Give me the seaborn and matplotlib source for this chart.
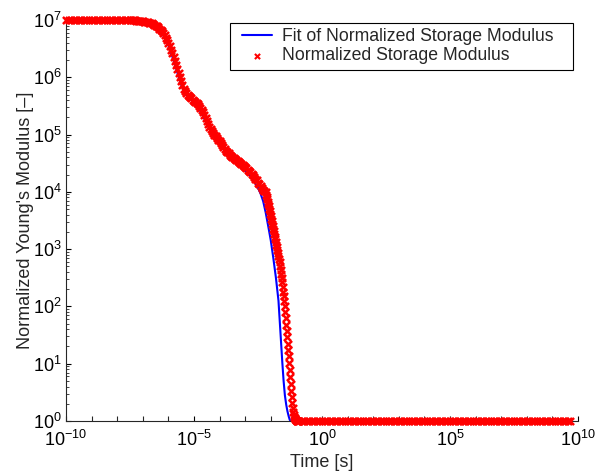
import numpy as np
import pandas as pd
import matplotlib
matplotlib.use("Agg")
import matplotlib.pyplot as plt
import seaborn as sns
from matplotlib.ticker import FixedLocator, FuncFormatter, LogLocator, NullFormatter
from matplotlib.lines import Line2D
from matplotlib.collections import PathCollection
from matplotlib.legend_handler import HandlerLine2D, HandlerPathCollection

# ---------------- data (log10 values) ----------------
# measured data: time exponents (log10 s)
data_log_time = [
    # upper plateau
    -10.0, -9.9, -9.8, -9.7, -9.6, -9.5, -9.4, -9.3, -9.2, -9.1, -9.0, -8.9, -8.8,
    -8.7, -8.6, -8.5, -8.4, -8.3, -8.2, -8.1, -8.0, -7.9, -7.8, -7.7, -7.6,
    # first relaxation zone
    -7.50, -7.45, -7.40, -7.35, -7.30, -7.25, -7.20, -7.15, -7.10, -7.05, -7.00,
    -6.95, -6.90, -6.85, -6.80, -6.75, -6.70, -6.65, -6.60, -6.55, -6.50, -6.45,
    -6.40, -6.35, -6.30, -6.25, -6.20, -6.15, -6.10, -6.05, -6.00, -5.95, -5.90,
    -5.85, -5.80, -5.75, -5.70, -5.65, -5.60, -5.55, -5.50, -5.45, -5.40, -5.35,
    -5.30, -5.25, -5.20, -5.15, -5.10, -5.05, -5.00, -4.95, -4.90, -4.85, -4.80,
    -4.75, -4.70, -4.65, -4.60, -4.55, -4.50, -4.45, -4.40, -4.35, -4.30, -4.25,
    -4.20, -4.15, -4.10, -4.05, -4.00, -3.95, -3.90, -3.85, -3.80, -3.75, -3.70,
    -3.65, -3.60, -3.55, -3.50, -3.45, -3.40, -3.35, -3.30, -3.25, -3.20, -3.15,
    -3.10, -3.05, -3.00, -2.95, -2.90, -2.85, -2.80, -2.75, -2.70, -2.65, -2.60,
    -2.55, -2.50, -2.45, -2.40, -2.35, -2.30, -2.25,
    # steep drop
    -2.20, -2.18, -2.16, -2.14, -2.12, -2.10, -2.08, -2.06, -2.04, -2.02, -2.00,
    -1.98, -1.96, -1.94, -1.92, -1.90, -1.88, -1.86, -1.84, -1.82, -1.80, -1.78,
    -1.76, -1.74, -1.72, -1.70, -1.68, -1.66, -1.64, -1.62, -1.60, -1.58, -1.56,
    -1.54, -1.52, -1.50, -1.48, -1.46, -1.44, -1.42, -1.40, -1.38, -1.36, -1.34,
    -1.32, -1.30, -1.28, -1.26, -1.24, -1.22, -1.20, -1.18, -1.16, -1.14, -1.12,
    -1.10, -1.08, -1.06, -1.04, -1.02, -1.00, -0.98, -0.96, -0.94, -0.92, -0.90,
    # lower plateau
    -0.8, -0.7, -0.6, -0.5, -0.4, -0.3, -0.2, -0.1, 0.0, 0.1, 0.2, 0.3, 0.4, 0.5,
    0.6, 0.7, 0.8, 0.9, 1.0, 1.1, 1.2, 1.3, 1.4, 1.5, 1.6, 1.7, 1.8, 1.9, 2.0, 2.1,
    2.2, 2.3, 2.4, 2.5, 2.6, 2.7, 2.8, 2.9, 3.0, 3.1, 3.2, 3.3, 3.4, 3.5, 3.6, 3.7,
    3.8, 3.9, 4.0, 4.1, 4.2, 4.3, 4.4, 4.5, 4.6, 4.7, 4.8, 4.9, 5.0, 5.1, 5.2, 5.3,
    5.4, 5.5, 5.6, 5.7, 5.8, 5.9, 6.0, 6.1, 6.2, 6.3, 6.4, 6.5, 6.6, 6.7, 6.8, 6.9,
    7.0, 7.1, 7.2, 7.3, 7.4, 7.5, 7.6, 7.7, 7.8, 7.9, 8.0, 8.1, 8.2, 8.3, 8.4, 8.5,
    8.6, 8.7, 8.8, 8.9, 9.0, 9.1, 9.2, 9.3, 9.4, 9.5, 9.6, 9.7,
]

# measured data: normalized modulus exponents (log10)
data_log_modulus = [
    # upper plateau
    7.0, 7.0, 7.0, 7.0, 7.0, 7.0, 7.0, 7.0, 7.0, 7.0, 7.0, 7.0, 7.0,
    7.0, 7.0, 7.0, 7.0, 7.0, 7.0, 7.0, 7.0, 7.0, 7.0, 7.0, 7.0,
    # first relaxation zone
    7.00, 7.00, 7.00, 7.00, 7.00, 6.99, 6.99, 6.99, 6.99, 6.98, 6.98,
    6.97, 6.97, 6.96, 6.96, 6.95, 6.95, 6.94, 6.93, 6.92, 6.90, 6.89,
    6.87, 6.85, 6.82, 6.80, 6.77, 6.73, 6.69, 6.65, 6.60, 6.54, 6.48,
    6.42, 6.35, 6.28, 6.21, 6.14, 6.07, 6.00, 5.93, 5.86, 5.80, 5.76,
    5.72, 5.69, 5.67, 5.65, 5.63, 5.61, 5.59, 5.57, 5.55, 5.53, 5.50,
    5.47, 5.43, 5.39, 5.34, 5.29, 5.24, 5.19, 5.14, 5.10, 5.06, 5.03,
    5.00, 4.97, 4.94, 4.91, 4.88, 4.85, 4.82, 4.78, 4.75, 4.72, 4.70,
    4.67, 4.65, 4.63, 4.61, 4.59, 4.58, 4.56, 4.54, 4.52, 4.51, 4.49,
    4.47, 4.45, 4.43, 4.41, 4.39, 4.37, 4.35, 4.32, 4.29, 4.26, 4.23,
    4.20, 4.16, 4.13, 4.10, 4.07, 4.04, 4.02,
    # steep drop
    3.99, 3.95, 3.91, 3.87, 3.83, 3.79, 3.75, 3.70, 3.66, 3.62, 3.58,
    3.53, 3.49, 3.44, 3.40, 3.35, 3.31, 3.26, 3.22, 3.17, 3.13, 3.08,
    3.04, 2.99, 2.94, 2.88, 2.83, 2.77, 2.71, 2.64, 2.57, 2.50, 2.42,
    2.34, 2.26, 2.18, 2.09, 2.00, 1.90, 1.79, 1.68, 1.57, 1.46, 1.35,
    1.24, 1.13, 1.01, 0.89, 0.77, 0.65, 0.53, 0.42, 0.32, 0.23, 0.16,
    0.11, 0.07, 0.05, 0.03, 0.02, 0.01, 0.00, 0.00, 0.00, 0.00, 0.00,
    # lower plateau
    0.0, 0.0, 0.0, 0.0, 0.0, 0.0, 0.0, 0.0, 0.0, 0.0, 0.0, 0.0, 0.0, 0.0,
    0.0, 0.0, 0.0, 0.0, 0.0, 0.0, 0.0, 0.0, 0.0, 0.0, 0.0, 0.0, 0.0, 0.0, 0.0, 0.0,
    0.0, 0.0, 0.0, 0.0, 0.0, 0.0, 0.0, 0.0, 0.0, 0.0, 0.0, 0.0, 0.0, 0.0, 0.0, 0.0,
    0.0, 0.0, 0.0, 0.0, 0.0, 0.0, 0.0, 0.0, 0.0, 0.0, 0.0, 0.0, 0.0, 0.0, 0.0, 0.0,
    0.0, 0.0, 0.0, 0.0, 0.0, 0.0, 0.0, 0.0, 0.0, 0.0, 0.0, 0.0, 0.0, 0.0, 0.0, 0.0,
    0.0, 0.0, 0.0, 0.0, 0.0, 0.0, 0.0, 0.0, 0.0, 0.0, 0.0, 0.0, 0.0, 0.0, 0.0, 0.0,
    0.0, 0.0, 0.0, 0.0, 0.0, 0.0, 0.0, 0.0, 0.0, 0.0, 0.0, 0.0,
]

# fitted curve (log10 values)
fit_log_time = [-10.0, -7.5, -7.0, -6.5, -6.2, -6.0, -5.8, -5.6, -5.5, -5.4, -5.3,
                -5.1, -4.9, -4.7, -4.5, -4.3, -4.1, -3.8, -3.5, -3.2, -2.9, -2.7,
                -2.5, -2.4, -2.3, -2.2, -2.1, -2.0, -1.9, -1.8, -1.7, -1.65, -1.6,
                -1.55, -1.5, -1.45, -1.4, -1.35, -1.3, -1.26, -1.22, 9.7]
fit_log_modulus = [7.0, 7.0, 6.98, 6.88, 6.73, 6.56, 6.30, 6.01, 5.87, 5.76, 5.69,
                   5.60, 5.51, 5.37, 5.19, 5.02, 4.90, 4.71, 4.56, 4.45, 4.33, 4.22,
                   4.07, 3.97, 3.84, 3.64, 3.40, 3.15, 2.84, 2.50, 2.10, 1.74, 1.38,
                   1.02, 0.70, 0.45, 0.29, 0.17, 0.08, 0.02, 0.0, 0.0]

# axis ticks (decade exponents)
x_labeled_decades = [-10, -5, 0, 5, 10]
x_unlabeled_decades = [-9, -8, -7, -6, -4, -3, -2, -1, 1, 2, 3, 4, 6, 7, 8, 9]

fit_label = "Fit of Normalized Storage Modulus"
data_label = "Normalized Storage Modulus"
x_label = "Time [s]"
y_label = "Normalized Young's Modulus [–]"

# ---------------- plotting ----------------
sns.set_style("ticks")
plt.rcParams["font.family"] = ["Liberation Sans", "DejaVu Sans"]
plt.rcParams["mathtext.fontset"] = "custom"
plt.rcParams["mathtext.rm"] = "Liberation Sans"
plt.rcParams["mathtext.it"] = "Liberation Sans:italic"
plt.rcParams["axes.linewidth"] = 0.8

data_df = pd.DataFrame({"time": 10.0 ** np.array(data_log_time),
                        "modulus": 10.0 ** np.array(data_log_modulus)})
fit_df = pd.DataFrame({"time": 10.0 ** np.array(fit_log_time),
                       "modulus": 10.0 ** np.array(fit_log_modulus)})

fig = plt.figure(figsize=(6.06, 4.75), dpi=100)
ax = fig.add_axes([66 / 606, 54 / 475, 512 / 606, 401 / 475])
ax.set_xscale("log")
ax.set_yscale("log")

sns.lineplot(data=fit_df, x="time", y="modulus", color="#0000ff", linewidth=1.5,
             estimator=None, sort=False, ax=ax, label=fit_label, zorder=2)
sns.scatterplot(data=data_df, x="time", y="modulus", marker="x", color="#ff0000",
                s=26, linewidth=1.8, ax=ax, label=data_label, zorder=3, clip_on=False)

ax.set_xlim(1e-10, 1e10)
ax.set_ylim(1, 1e7)

def xfmt(v, pos):
    k = int(round(np.log10(v)))
    return r"$\mathdefault{10^{%d}}$" % k

ax.xaxis.set_major_locator(FixedLocator([10.0 ** k for k in x_labeled_decades]))
ax.xaxis.set_major_formatter(FuncFormatter(xfmt))
ax.xaxis.set_minor_locator(FixedLocator([10.0 ** k for k in x_unlabeled_decades]))
ax.xaxis.set_minor_formatter(NullFormatter())
ax.yaxis.set_major_locator(LogLocator(base=10, numticks=20))
ax.yaxis.set_minor_locator(LogLocator(base=10, subs=np.arange(2, 10), numticks=100))
ax.yaxis.set_minor_formatter(NullFormatter())

ax.tick_params(axis="both", which="major", direction="in", length=3.5, width=0.8,
               labelsize=13, pad=3, colors="black")
ax.tick_params(axis="x", which="major", pad=6.5)
ax.tick_params(axis="y", which="minor", direction="in", length=2, width=0.6)
ax.tick_params(axis="x", which="minor", direction="in", length=3.5, width=0.8)
for s in ["top", "right"]:
    ax.spines[s].set_visible(False)

ax.set_xlabel(x_label, fontsize=13, labelpad=3)
ax.set_ylabel(y_label, fontsize=13, labelpad=-1)

leg_x0 = (230 - 66) / 512
leg_w = (573 - 230) / 512
leg = ax.legend(loc="upper left", bbox_to_anchor=(leg_x0, 0.8778, leg_w, 0.1147),
                mode="expand", fontsize=12.7,
                frameon=True, fancybox=False, edgecolor="black", framealpha=1,
                borderpad=0.3, labelspacing=0.12, handlelength=2.1,
                handletextpad=0.57, borderaxespad=0, scatterpoints=1,
                handler_map={Line2D: HandlerLine2D(xpad=0.4),
                             PathCollection: HandlerPathCollection(xpad=0.4)})
leg.get_frame().set_linewidth(0.8)
leg.legend_handles[1].set_sizes([14])
leg.legend_handles[1].set_linewidth(1.5)

fig.savefig("out.png", dpi=100)
